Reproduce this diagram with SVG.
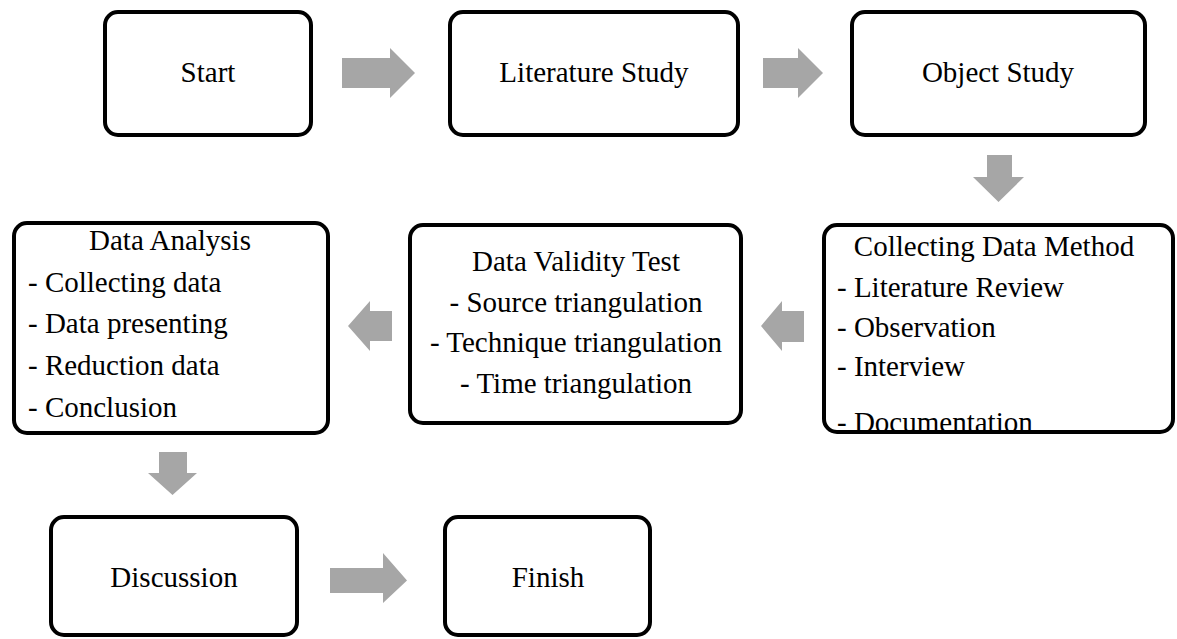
<svg xmlns="http://www.w3.org/2000/svg" width="1177" height="639" viewBox="0 0 1177 639">
  <style>
    .box { fill: #ffffff; stroke: #000000; stroke-width: 4; }
    .frame { fill: none; stroke: #000000; stroke-width: 4; }
    .fill { fill: #ffffff; stroke: none; }
    .lbl { font-family: "Liberation Serif", "Times New Roman", serif; font-size: 29px; fill: #000000; }
    .mid { text-anchor: middle; }
    .arrow { fill: #a6a6a6; stroke: none; }
  </style>
  <defs>
    <clipPath id="clip-collect">
      <rect x="822" y="223" width="353" height="209"/>
    </clipPath>
  </defs>
  <rect width="1177" height="639" fill="#ffffff"/>

  <!-- block arrows between the steps -->
  <g id="connectors">
    <polygon class="arrow" points="342,58 390,58 390,48 415,73 390,98 390,88 342,88"/>
    <polygon class="arrow" points="763,58 798,58 798,48 823,73 798,98 798,88 763,88"/>
    <polygon class="arrow" points="987,155 1012,155 1012,177 1024,177 998.5,202 973,177 987,177"/>
    <polygon class="arrow" points="804,311 782,311 782,301 761,326 782,351 782,342 804,342"/>
    <polygon class="arrow" points="392,311 370,311 370,301 348,326 370,351 370,341 392,341"/>
    <polygon class="arrow" points="159,452 187,452 187,473 197,473 172.5,495 148,473 159,473"/>
    <polygon class="arrow" points="330,568 383,568 383,553 407,580.5 383,603 383,593 330,593"/>
  </g>

  <g id="start">
    <rect class="box" x="105" y="12" width="206" height="123" rx="13"/>
    <text class="lbl mid" x="208" y="82">Start</text>
  </g>

  <g id="literature-study">
    <rect class="box" x="450" y="12" width="288" height="123" rx="13"/>
    <text class="lbl mid" x="594" y="82">Literature Study</text>
  </g>

  <g id="object-study">
    <rect class="box" x="852" y="12" width="293" height="123" rx="13"/>
    <text class="lbl mid" x="998" y="82">Object Study</text>
  </g>

  <g id="collecting-data-method">
    <rect class="fill" x="824" y="225" width="349" height="207" rx="13"/>
    <!-- the last item runs into the bottom edge and is cut by it -->
    <g clip-path="url(#clip-collect)">
      <text class="lbl mid" x="994" y="256">Collecting Data Method</text>
      <text class="lbl" x="837" y="297">- Literature Review</text>
      <text class="lbl" x="837" y="337">- Observation</text>
      <text class="lbl" x="837" y="376">- Interview</text>
      <text class="lbl" x="837" y="432">- Documentation</text>
    </g>
    <rect class="frame" x="824" y="225" width="349" height="207" rx="13"/>
  </g>

  <g id="data-validity-test">
    <rect class="box" x="410" y="225" width="331" height="198" rx="13"/>
    <text class="lbl mid" x="576" y="271">Data Validity Test</text>
    <text class="lbl mid" x="576" y="312">- Source triangulation</text>
    <text class="lbl mid" x="576" y="352">- Technique triangulation</text>
    <text class="lbl mid" x="576" y="393">- Time triangulation</text>
  </g>

  <g id="data-analysis">
    <rect class="box" x="14" y="223" width="314" height="210" rx="13"/>
    <text class="lbl mid" x="170" y="250">Data Analysis</text>
    <text class="lbl" x="28" y="292">- Collecting data</text>
    <text class="lbl" x="28" y="333">- Data presenting</text>
    <text class="lbl" x="28" y="375">- Reduction data</text>
    <text class="lbl" x="28" y="417">- Conclusion</text>
  </g>

  <g id="discussion">
    <rect class="box" x="51" y="517" width="246" height="118" rx="13"/>
    <text class="lbl mid" x="174" y="587">Discussion</text>
  </g>

  <g id="finish">
    <rect class="box" x="445" y="517" width="205" height="118" rx="13"/>
    <text class="lbl mid" x="548" y="587">Finish</text>
  </g>
</svg>
